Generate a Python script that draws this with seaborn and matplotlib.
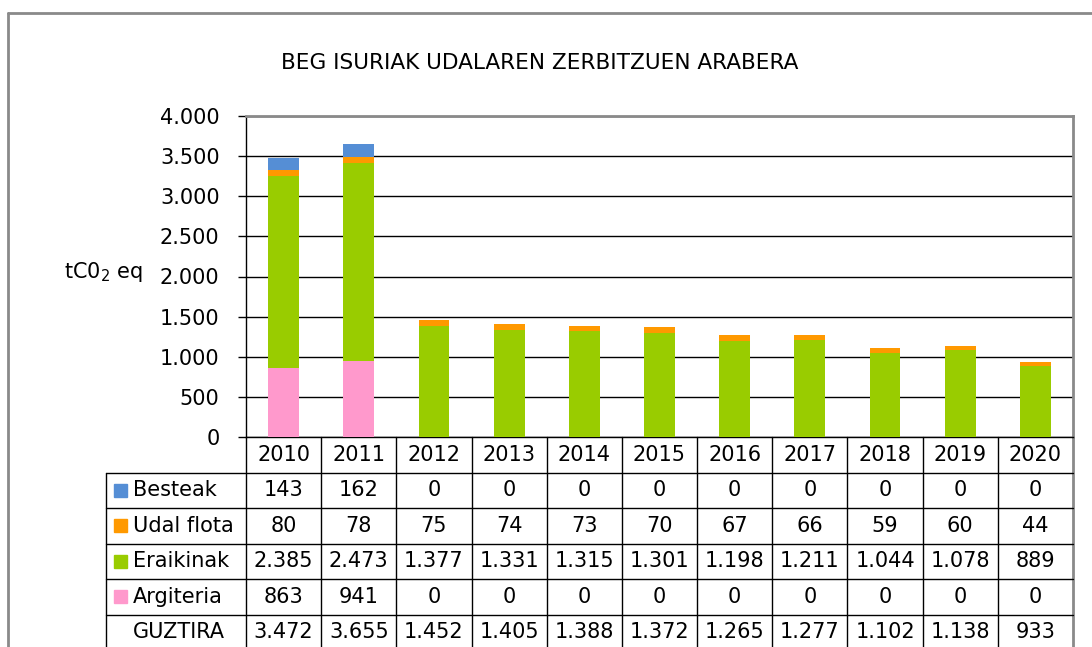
import pandas as pd
import matplotlib.pyplot as plt
import seaborn as sns
from matplotlib.patches import Rectangle
from matplotlib.lines import Line2D

years = ["2010", "2011", "2012", "2013", "2014", "2015", "2016", "2017", "2018", "2019", "2020"]
besteak = [143, 162, 0, 0, 0, 0, 0, 0, 0, 0, 0]
udal_flota = [80, 78, 75, 74, 73, 70, 67, 66, 59, 60, 44]
eraikinak = [2385, 2473, 1377, 1331, 1315, 1301, 1198, 1211, 1044, 1078, 889]
argiteria = [863, 941, 0, 0, 0, 0, 0, 0, 0, 0, 0]
guztira = [3472, 3655, 1452, 1405, 1388, 1372, 1265, 1277, 1102, 1138, 933]

colors = {"Besteak": "#558ED5", "Udal flota": "#FF9900",
          "Eraikinak": "#99CC00", "Argiteria": "#FF99CC"}

sns.set_style("white")
plt.rcParams["font.family"] = ["DejaVu Sans"]
plt.rcParams["text.color"] = "black"
plt.rcParams["axes.labelcolor"] = "black"
plt.rcParams["xtick.color"] = "black"
plt.rcParams["ytick.color"] = "black"

df = pd.DataFrame({"Urtea": years, "Argiteria": argiteria, "Eraikinak": eraikinak,
                   "Udal flota": udal_flota, "Besteak": besteak})


def fmt(v):
    return f"{v:,}".replace(",", ".")


W, H = 1092, 647
fig = plt.figure(figsize=(W / 100, H / 100), dpi=100)
ax = fig.add_axes([246 / W, 1 - 437 / H, 827 / W, 321 / H])

# stacked bars: draw the cumulative sums, top layer first
stack_order = ["Argiteria", "Eraikinak", "Udal flota", "Besteak"]
cum = df[stack_order].cumsum(axis=1)
for name in reversed(stack_order):
    sns.barplot(x=df["Urtea"], y=cum[name], color=colors[name], width=0.41,
                saturation=1, linewidth=0, edgecolor="none", ax=ax, zorder=3)

ax.set_xlim(-0.5, len(years) - 0.5)
ax.set_ylim(0, 4000)
ax.set_yticks(range(0, 4001, 500))
ax.set_yticklabels([fmt(v) for v in range(0, 4001, 500)], fontsize=15)
ax.yaxis.grid(True, color="black", lw=1)
ax.set_axisbelow(True)
ax.tick_params(axis="y", left=True, length=6, width=1, color="black", pad=13)
ax.tick_params(axis="x", bottom=False, labelbottom=False)
ax.set_xlabel("")
ax.set_ylabel("tC0$_2$ eq", rotation=0, fontsize=15, va="center", ha="center")
ax.yaxis.set_label_coords((104 - 246) / 827, (437 - 272) / 321)

for s in ["left", "bottom"]:
    ax.spines[s].set_color("black")
    ax.spines[s].set_linewidth(1)
for s in ["top", "right"]:
    ax.spines[s].set_color("#8a8a8a")
    ax.spines[s].set_linewidth(2)

# data table under the bars
row_h = 35.5 / 321
lab_left = (106 - 246) / 827
tx = ax.get_xaxis_transform()
rows = [("Besteak", besteak), ("Udal flota", udal_flota), ("Eraikinak", eraikinak),
        ("Argiteria", argiteria), ("GUZTIRA", guztira)]
n_rows = len(rows) + 1

for i, y in enumerate(years):
    ax.text(i, -0.5 * row_h, y, transform=tx, ha="center", va="center", fontsize=15)

for r, (name, vals) in enumerate(rows, start=1):
    yc = -(r + 0.5) * row_h
    ax.text((133 - 246) / 827, yc, name, transform=ax.transAxes, ha="left",
            va="center", fontsize=15)
    if name in colors:
        sq_w, sq_h = 13 / 827, 13 / 321
        ax.add_patch(Rectangle(((120 - 246) / 827 - sq_w / 2, yc - sq_h / 2), sq_w, sq_h,
                               transform=ax.transAxes, color=colors[name], clip_on=False))
    for i, v in enumerate(vals):
        ax.text(i, yc, fmt(v), transform=tx, ha="center", va="center", fontsize=15)

# table grid lines
for k in range(len(years) + 1):
    x = k - 0.5
    c, lw = ("#8a8a8a", 2) if k == len(years) else ("black", 1)
    ax.plot([x, x], [0, -n_rows * row_h], transform=tx, color=c, lw=lw, clip_on=False)
for r in range(1, n_rows + 1):
    ax.plot([lab_left, 1], [-r * row_h, -r * row_h], transform=ax.transAxes,
            color="black", lw=1, clip_on=False)
ax.plot([lab_left, lab_left], [-row_h, -n_rows * row_h], transform=ax.transAxes,
        color="black", lw=1, clip_on=False)

# title and outer chart frame
fig.text(540 / W, 1 - 63 / H, "BEG ISURIAK UDALAREN ZERBITZUEN ARABERA",
         ha="center", va="center", fontsize=15.6)
fig.add_artist(Line2D([8 / W, 1], [1 - 13 / H, 1 - 13 / H], color="#8a8a8a", lw=2))
fig.add_artist(Line2D([8 / W, 8 / W], [0, 1 - 13 / H], color="#8a8a8a", lw=2))

fig.savefig("out.png", dpi=100)
